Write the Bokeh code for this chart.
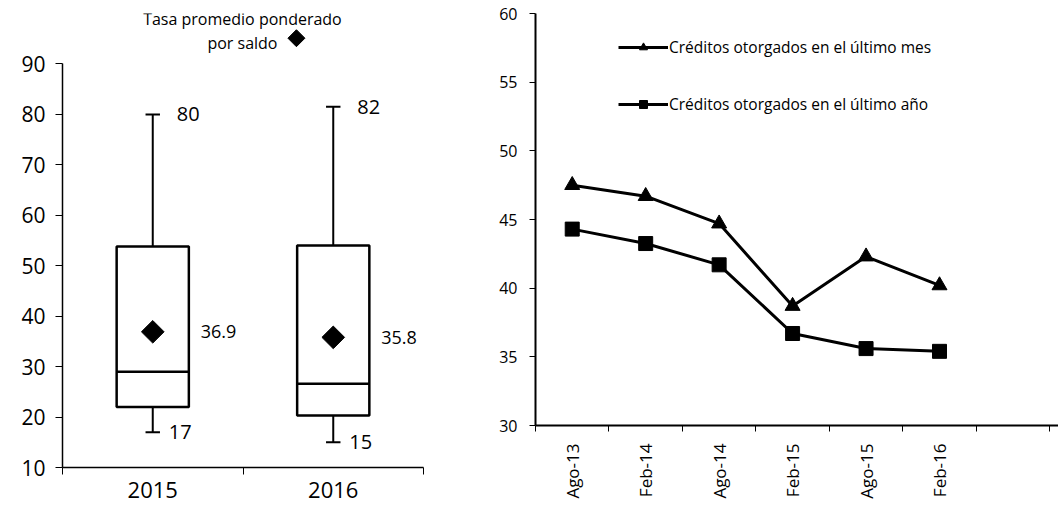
import numpy as np
from bokeh.plotting import figure
from bokeh.layouts import row, column
from bokeh.models import Range1d, FixedTicker, Legend, LegendItem, ColumnDataSource
from bokeh.core.properties import value
from bokeh.embed import file_html
from bokeh.resources import INLINE

# ---------------- data ----------------
years = ["2015", "2016"]
low = [17, 15]
q1 = [22, 20.3]
median = [29, 26.6]
q3 = [53.8, 54]
high = [80, 81.5]
mean = [36.9, 35.8]

periods = ["Ago-13", "Feb-14", "Ago-14", "Feb-15", "Ago-15", "Feb-16"]
ultimo_mes = [47.5, 46.7, 44.7, 38.7, 42.3, 40.2]
ultimo_anio = [44.3, 43.25, 41.7, 36.7, 35.6, 35.4]

FONT = "Open Sans"

# ---------------- left: box plot ----------------
xs = np.arange(len(years), dtype=float)
p1 = figure(width=440, height=517, x_range=Range1d(-0.5, 1.5), y_range=Range1d(10, 100),
            output_backend="svg", toolbar_location=None,
            min_border_left=62, min_border_right=17, min_border_top=13, min_border_bottom=50)
p1.outline_line_color = None
p1.grid.visible = False

half = 0.2
cap = 0.04
p1.segment(x0=xs, y0=q3, x1=xs, y1=high, line_color="black", line_width=2)
p1.segment(x0=xs, y0=q1, x1=xs, y1=low, line_color="black", line_width=2)
p1.segment(x0=xs - cap, y0=high, x1=xs + cap, y1=high, line_color="black", line_width=2)
p1.segment(x0=xs - cap, y0=low, x1=xs + cap, y1=low, line_color="black", line_width=2)
p1.vbar(x=xs, width=2 * half, bottom=q1, top=q3, fill_color="white",
        line_color="black", line_width=2.5)
p1.segment(x0=xs - half, y0=median, x1=xs + half, y1=median, line_color="black", line_width=2.5)
p1.scatter(x=xs, y=mean, marker="square", angle=np.pi / 4, size=16, color="black")

p1.text(x=xs, y=high, text=[format(v, ".0f") for v in high], x_offset=24,
        text_baseline="middle", text_font=value(FONT), text_font_size="20px", text_color="black")
p1.text(x=xs, y=low, text=[format(v, ".0f") for v in low], x_offset=16,
        text_baseline="middle", text_font=value(FONT), text_font_size="20px", text_color="black")
p1.text(x=xs, y=mean, text=[format(v, ".1f") for v in mean], x_offset=48,
        text_baseline="middle", text_font=value(FONT), text_font_size="18px", text_color="black")

# legend note for mean marker
p1.text(x=[0.497, 0.497], y=[98.9, 94.1], text=["Tasa promedio ponderado", "por saldo"],
        text_align="center", text_baseline="middle", text_font=value(FONT),
        text_font_size="16px", text_color="black")
p1.scatter(x=[0.796], y=[95.1], marker="square", angle=np.pi / 4, size=12, color="black")

p1.yaxis.bounds = (10, 90)
p1.yaxis.ticker = FixedTicker(ticks=list(range(10, 91, 10)))
p1.yaxis.minor_tick_line_color = None
p1.yaxis.major_tick_out = 7
p1.yaxis.major_tick_in = 0
p1.yaxis.major_label_text_font = FONT
p1.yaxis.major_label_text_font_size = "21px"
p1.yaxis.major_label_text_color = "black"
p1.yaxis.axis_line_width = 1.5
p1.yaxis.axis_line_color = "black"
p1.yaxis.major_label_standoff = 10

p1.xaxis.ticker = FixedTicker(ticks=list(xs), minor_ticks=[-0.5, 0.5, 1.5])
p1.xaxis.major_label_overrides = {i: y for i, y in enumerate(years)}
p1.xaxis.major_tick_line_color = None
p1.xaxis.minor_tick_out = 7
p1.xaxis.minor_tick_in = 0
p1.xaxis.minor_tick_line_color = "black"
p1.xaxis.major_label_text_font = FONT
p1.xaxis.major_label_text_font_size = "22px"
p1.xaxis.major_label_text_color = "black"
p1.xaxis.axis_line_width = 1.5
p1.xaxis.axis_line_color = "black"
p1.xaxis.major_label_standoff = 7

# ---------------- right: line chart ----------------
px = np.arange(len(periods), dtype=float)
p2 = figure(width=618, height=517, x_range=Range1d(-0.5, 6.62), y_range=Range1d(30, 60),
            output_backend="svg", toolbar_location=None,
            min_border_left=95, min_border_right=0, min_border_top=13, min_border_bottom=92)
p2.outline_line_color = None
p2.grid.visible = False

src = ColumnDataSource(dict(x=px, mes=ultimo_mes, anio=ultimo_anio))
l1 = p2.line("x", "mes", source=src, line_color="black", line_width=3)
m1 = p2.scatter("x", "mes", source=src, marker="triangle", size=15, color="black")
l2 = p2.line("x", "anio", source=src, line_color="black", line_width=3)
m2 = p2.scatter("x", "anio", source=src, marker="square", size=14, color="black")

legend = Legend(items=[
    LegendItem(label="Créditos otorgados en el último mes", renderers=[l1, m1]),
    LegendItem(label="Créditos otorgados en el último año", renderers=[l2, m2]),
], location=(83, 310), glyph_width=50, glyph_height=20, spacing=35, padding=0,
    margin=0, label_standoff=1, border_line_color=None, background_fill_alpha=0,
    label_text_font=FONT, label_text_font_size="15.5px", label_text_color="black")
p2.add_layout(legend)

p2.yaxis.ticker = FixedTicker(ticks=list(range(30, 61, 5)))
p2.yaxis.minor_tick_line_color = None
p2.yaxis.major_tick_out = 6
p2.yaxis.major_tick_in = 0
p2.yaxis.major_label_text_font = FONT
p2.yaxis.major_label_text_font_size = "16px"
p2.yaxis.major_label_text_color = "black"
p2.yaxis.axis_line_width = 2
p2.yaxis.axis_line_color = "black"
p2.yaxis.major_label_standoff = 12

p2.xaxis.ticker = FixedTicker(ticks=list(px), minor_ticks=[v - 0.5 for v in range(0, 8)])
p2.xaxis.major_label_overrides = {i: s for i, s in enumerate(periods)}
p2.xaxis.major_label_orientation = np.pi / 2
p2.xaxis.major_tick_line_color = None
p2.xaxis.minor_tick_out = 6
p2.xaxis.minor_tick_in = 0
p2.xaxis.minor_tick_line_color = "black"
p2.xaxis.major_label_text_font = FONT
p2.xaxis.major_label_text_font_size = "17px"
p2.xaxis.major_label_text_color = "black"
p2.xaxis.axis_line_width = 2
p2.xaxis.axis_line_color = "black"
p2.xaxis.major_label_standoff = 12

layout = row(column(p1), column(p2))
open("out.html", "w").write(file_html(layout, INLINE))
